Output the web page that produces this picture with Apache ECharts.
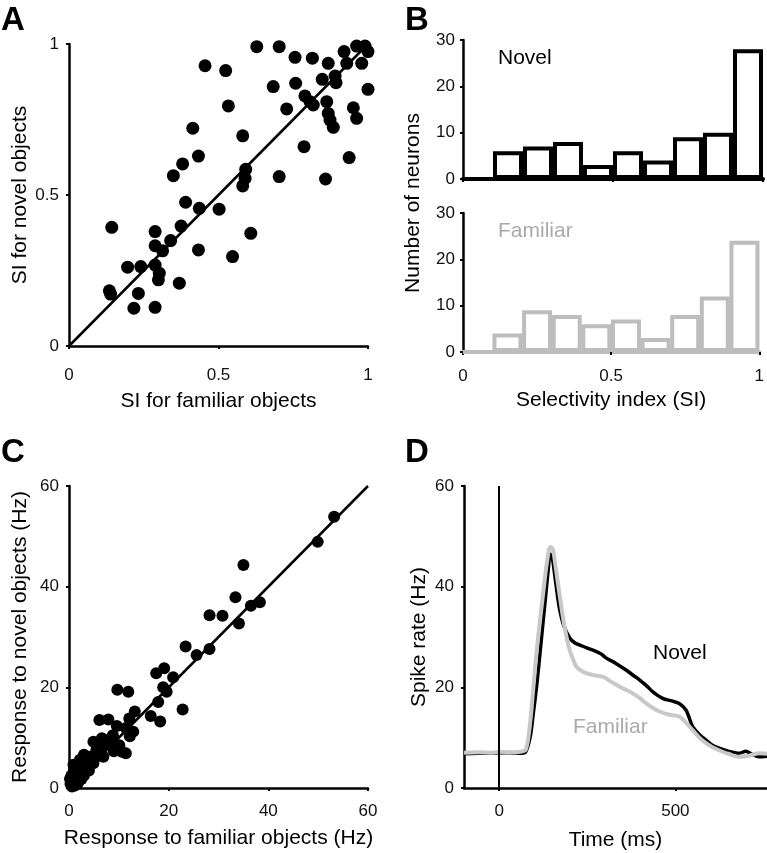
<!DOCTYPE html>
<html><head><meta charset="utf-8">
<script src="https://cdn.jsdelivr.net/npm/echarts@6/dist/echarts.min.js"></script>
<style>html,body{margin:0;padding:0;background:#fff}#c{width:767px;height:853px}</style>
</head><body><div id="c"></div>
<script>
// ---- Panel A: selectivity index scatter ----
const siFamiliar = [0.628,0.703,0.756,0.814,0.867,0.920,0.962,0.990,1.0,0.979,0.929,0.455,0.524,0.683,0.758,0.847,0.890,0.893,1.0,0.789,0.806,0.817,0.862,0.728,0.533,0.951,0.962,0.867,0.873,0.884,0.414,0.581,0.786,0.937,0.433,0.380,0.349,0.591,0.589,0.581,0.703,0.858,0.390,0.436,0.502,0.143,0.375,0.288,0.608,0.340,0.288,0.313,0.433,0.547,0.196,0.240,0.288,0.302,0.299,0.369,0.135,0.139,0.232,0.217,0.288];
const siNovel    = [0.991,0.991,0.956,0.953,0.936,0.975,0.993,0.993,0.975,0.936,0.936,0.928,0.912,0.859,0.870,0.883,0.894,0.872,0.850,0.828,0.809,0.798,0.809,0.785,0.795,0.789,0.754,0.770,0.748,0.724,0.721,0.696,0.660,0.624,0.629,0.603,0.564,0.585,0.555,0.530,0.561,0.553,0.476,0.456,0.453,0.393,0.397,0.379,0.373,0.349,0.332,0.315,0.318,0.296,0.261,0.263,0.268,0.241,0.219,0.208,0.183,0.172,0.174,0.125,0.128];
const unityA = [0, 1];

// ---- Panel B: SI histograms ----
const binCenters = [0.05,0.15,0.25,0.35,0.45,0.55,0.65,0.75,0.85,0.95];
const novelCounts = [0,6,7,8,3,6,4,9,10,28];
const familiarCounts = [0,4,9,8,6,7,3,8,12,24];

// ---- Panel C: response scatter (Hz) ----
const respFamiliar = [53.2,49.9,35.0,33.4,36.5,38.3,28.2,30.8,34.1,23.4,28.2,25.6,17.5,19.1,20.9,18.9,19.6,9.7,11.9,17.9,22.8,13.2,12.1,16.4,18.3,6.1,7.9,9.6,11.4,12.9,12.2,6.6,4.9,8.1,10.1,10.6,11.4,3.0,4.2,5.9,6.9,2.2,3.5,4.9,0.9,2.2,3.5,0.3,0.8,1.2,0.5,1.5,2.5,1.0,2.0,3.0,4.0,0.2,1.8,5.5,7.5,8.8,6.5,9.0,5.0,0.6,1.5];
const respNovel    = [53.9,48.9,44.3,37.9,36.2,36.9,34.3,34.2,32.7,28.1,27.6,26.4,22.8,23.8,22.0,20.0,19.1,19.5,19.1,17.1,15.6,15.2,13.8,14.3,13.2,13.5,13.6,12.3,11.9,11.2,10.3,9.9,9.2,8.9,8.5,7.2,6.9,6.6,6.2,6.4,6.2,5.6,5.2,4.9,4.6,4.2,4.2,0.8,1.5,0.5,2.5,2.2,1.8,3.5,3.0,2.5,3.5,1.8,1.0,7.5,9.5,10.5,8.0,7.3,5.8,0.3,4.0];
const unityC = [0, 60];

// ---- Panel D: population spike rate ----
const novelTime = [-100,-60,-20,0,30,60,75,88,97,106,116,125,133,139,145,150,160,170,182,200,215,229,250,276,290,304,330,361,380,398,420,436,464,490,511,530,540,549,570,587,605,624,650,681,700,715,737,760];
const novelRate = [6.8,6.9,6.9,7.0,7.0,6.9,7.2,10.2,15,20.1,27,33.4,39,43.3,46.5,46,41,36,32.5,29.8,28.8,28.4,27.8,27.1,26.6,25.8,24.8,23.4,22.4,21.5,20.2,19.1,17.8,17.3,16.8,15.5,13.8,12.2,10.5,9.5,8.5,7.9,7.3,6.9,7.3,6.8,6.2,6.3];
const familiarTime = [-100,-60,-20,0,30,60,75,83,90,97,106,116,126,135,145,152,160,170,182,191,200,210,219,233,248,270,295,320,342,360,379,400,417,436,455,480,511,530,549,568,587,605,624,650,681,700,718,737,760];
const familiarRate = [7.0,7.1,7.0,7.2,7.1,7.2,7.6,10.2,14.5,20.1,27,33.4,39.5,44.6,47.9,47.5,44,39,33.4,30,27.4,25.5,24.1,23.3,22.8,22.4,22.1,21.0,20.1,19.5,18.8,17.8,16.8,15.9,15.2,14.6,14.2,13.0,11.5,10.0,8.9,8.1,7.5,6.8,6.2,6.3,6.6,6.9,6.8];
const timeTicks = [0, 500];

const zip = (a, b) => a.map((v, i) => [v, b[i]]);
const FONT = "'Liberation Sans', Arial, Helvetica, sans-serif";
const GRAY = '#bdbdbd';

function axisBase(extra) {
  return Object.assign({
    type: 'value',
    splitLine: { show: false },
    axisLine: { show: true, onZero: false, lineStyle: { color: '#000', width: 2.5 } },
    axisTick: { show: true, length: 3, lineStyle: { color: '#000', width: 2 } },
    axisLabel: { fontSize: 17, color: '#111', fontFamily: FONT, margin: 16 },
    nameLocation: 'middle',
    nameTextStyle: { fontSize: 21, color: '#000', fontFamily: FONT }
  }, extra);
}

const chart = echarts.init(document.getElementById('c'), null, { renderer: 'canvas' });

function txt(text, x, y, opts) {
  opts = opts || {};
  return {
    type: 'text', x: x, y: y, rotation: opts.rotation || 0, z: 100,
    style: {
      text: text, fill: opts.fill || '#000',
      font: opts.font || ('21px ' + FONT),
      align: opts.align || 'center', verticalAlign: 'middle',
      textAlign: opts.align || 'center', textVerticalAlign: 'middle'
    }
  };
}

const option = {
  animation: false,
  backgroundColor: '#fff',
  grid: [
    { left: 69, top: 44, width: 299, height: 302 },
    { left: 463, top: 40, width: 300, height: 139 },
    { left: 463, top: 213, width: 300, height: 139 },
    { left: 69, top: 486, width: 299, height: 302 },
    { left: 464, top: 486, width: 304, height: 302 }
  ],
  xAxis: [
    axisBase({ gridIndex: 0, min: 0, max: 1, interval: 0.5, name: 'SI for familiar objects', nameGap: 45,
      axisLabel: { fontSize: 17, color: '#111', fontFamily: FONT, margin: 21 } }),
    axisBase({ gridIndex: 1, min: 0, max: 1, interval: 0.5, axisLabel: { show: false },
      axisLine: { show: true, onZero: false, lineStyle: { color: '#000', width: 4 } } }),
    axisBase({ gridIndex: 2, min: 0, max: 1, interval: 0.5, name: 'Selectivity index (SI)', nameGap: 38,
      axisLine: { show: true, onZero: false, lineStyle: { color: GRAY, width: 4 } } }),
    axisBase({ gridIndex: 3, min: 0, max: 60, interval: 20, name: 'Response to familiar objects (Hz)', nameGap: 40,
      axisLabel: { fontSize: 17, color: '#111', fontFamily: FONT, margin: 15 } }),
    axisBase({ gridIndex: 4, min: -100, max: 760, name: 'Time (ms)', nameGap: 42,
      axisTick: { show: true, length: 3, customValues: timeTicks, lineStyle: { color: '#000', width: 2 } },
      axisLabel: { fontSize: 17, color: '#111', fontFamily: FONT, margin: 15, customValues: timeTicks } })
  ],
  yAxis: [
    axisBase({ gridIndex: 0, min: 0, max: 1, interval: 0.5, name: 'SI for novel objects', nameGap: 38,
      axisLabel: { fontSize: 17, color: '#111', fontFamily: FONT, margin: 10 } }),
    axisBase({ gridIndex: 1, min: 0, max: 30, interval: 10,
      axisLabel: { fontSize: 17, color: '#111', fontFamily: FONT, margin: 8 } }),
    axisBase({ gridIndex: 2, min: 0, max: 30, interval: 10,
      axisLabel: { fontSize: 17, color: '#111', fontFamily: FONT, margin: 8 } }),
    axisBase({ gridIndex: 3, min: 0, max: 60, interval: 20, name: 'Response to novel objects (Hz)', nameGap: 38,
      axisLabel: { fontSize: 17, color: '#111', fontFamily: FONT, margin: 10 } }),
    axisBase({ gridIndex: 4, min: 0, max: 60, interval: 20, name: 'Spike rate (Hz)', nameGap: 34,
      axisLabel: { fontSize: 17, color: '#111', fontFamily: FONT, margin: 10 } })
  ],
  series: [
    { type: 'line', xAxisIndex: 0, yAxisIndex: 0, data: zip(unityA, unityA), symbol: 'none',
      lineStyle: { color: '#000', width: 2.5 }, z: 2, silent: true },
    { type: 'scatter', xAxisIndex: 0, yAxisIndex: 0, data: zip(siFamiliar, siNovel), symbolSize: 13,
      itemStyle: { color: '#000', opacity: 1 }, z: 3 },
    { type: 'bar', xAxisIndex: 1, yAxisIndex: 1, data: zip(binCenters, novelCounts), barWidth: 30,
      itemStyle: { color: '#fff', borderColor: '#000', borderWidth: 4 } },
    { type: 'bar', xAxisIndex: 2, yAxisIndex: 2, data: zip(binCenters, familiarCounts), barWidth: 30,
      itemStyle: { color: '#fff', borderColor: GRAY, borderWidth: 4 } },
    { type: 'line', xAxisIndex: 3, yAxisIndex: 3, data: zip(unityC, unityC), symbol: 'none',
      lineStyle: { color: '#000', width: 2.5 }, z: 2, silent: true },
    { type: 'scatter', xAxisIndex: 3, yAxisIndex: 3, data: zip(respFamiliar, respNovel), symbolSize: 12,
      itemStyle: { color: '#000', opacity: 1 }, z: 3 },
    { type: 'line', xAxisIndex: 4, yAxisIndex: 4, data: zip(novelTime, novelRate), symbol: 'none', smooth: 0.3,
      lineStyle: { color: '#000', width: 3.5 }, z: 3,
      markLine: { silent: true, symbol: 'none', label: { show: false },
        lineStyle: { color: '#000', width: 2, type: 'solid' }, data: [{ xAxis: 0 }] } },
    { type: 'line', xAxisIndex: 4, yAxisIndex: 4, data: zip(familiarTime, familiarRate), symbol: 'none', smooth: 0.3,
      lineStyle: { color: '#c8c8c8', width: 4 }, z: 4 }
  ],
  graphic: [
    txt('A', 13, 21, { font: 'bold 33px ' + FONT }),
    txt('B', 417, 21, { font: 'bold 33px ' + FONT }),
    txt('C', 13, 453, { font: 'bold 33px ' + FONT }),
    txt('D', 417, 453, { font: 'bold 33px ' + FONT }),
    txt('Number of neurons', 413, 203, { rotation: Math.PI / 2 }),
    txt('Novel', 498, 58, { align: 'left' }),
    txt('Familiar', 498, 231, { align: 'left', fill: '#aaaaaa' }),
    txt('Novel', 653, 653, { align: 'left' }),
    txt('Familiar', 573, 727, { align: 'left', fill: '#aaaaaa' })
  ]
};
chart.setOption(option);
</script>
</body></html>
